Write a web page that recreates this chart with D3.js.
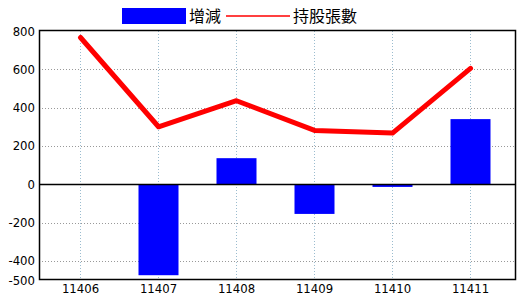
<!DOCTYPE html>
<html>
<head>
<meta charset="UTF-8">
<script src="https://d3js.org/d3.v7.min.js"></script>
<style>
  body { margin: 0; background: #fff; }
  text { font-family: "Liberation Sans Narrow", "DejaVu Sans Condensed", Arial, sans-serif; }
</style>
</head>
<body>
<div id="chart"></div>
<script>
// chart data
var months = ["11406", "11407", "11408", "11409", "11410", "11411"];
var change = [0, -475, 136, -155, -14, 340];       // 增減
var holding = [766, 300, 436, 281, 267, 605];      // 持股張數
var yTicks = [-500, -400, -200, 0, 200, 400, 600, 800];
var legendNames = ["增減", "持股張數"];

var W = 520, H = 300;
var margin = {top: 31, right: 4, bottom: 20, left: 39};
var plotR = W - margin.right, plotB = H - margin.bottom;

var svg = d3.select("#chart").append("svg")
  .attr("width", W).attr("height", H);

var x = d3.scalePoint().domain(months).range([80.5, 470.5]);
var y = d3.scaleLinear().domain([-500, 800]).range([plotB, margin.top]);

// horizontal grid
svg.append("g").selectAll("line")
  .data(yTicks.filter(function(d) { return d != 0 && d != -500 && d != 800; }))
  .enter().append("line")
  .attr("x1", margin.left).attr("x2", plotR)
  .attr("y1", function(d) { return Math.round(y(d)) + 0.5; })
  .attr("y2", function(d) { return Math.round(y(d)) + 0.5; })
  .attr("stroke", "#999").attr("stroke-dasharray", "1,2");

// vertical grid
svg.append("g").selectAll("line")
  .data(months).enter().append("line")
  .attr("x1", function(d) { return x(d); }).attr("x2", function(d) { return x(d); })
  .attr("y1", margin.top).attr("y2", plotB)
  .attr("stroke", "#9bbccf").attr("stroke-dasharray", "1,2");

// bars
var bw = 40;
svg.append("g").selectAll("rect")
  .data(months.map(function(m, i) { return {m: m, v: change[i]}; }))
  .enter().append("rect")
  .attr("x", function(d) { return x(d.m) - bw / 2; })
  .attr("width", bw)
  .attr("y", function(d) { return y(Math.max(0, d.v)); })
  .attr("height", function(d) { return Math.abs(y(d.v) - y(0)); })
  .attr("fill", "#0000ff");

// zero line
svg.append("line")
  .attr("x1", margin.left).attr("x2", plotR)
  .attr("y1", Math.round(y(0)) + 0.5).attr("y2", Math.round(y(0)) + 0.5)
  .attr("stroke", "#000").attr("stroke-width", 1.5);

// holding line
var line = d3.line()
  .x(function(d, i) { return x(months[i]); })
  .y(function(d) { return y(d); });
svg.append("path")
  .datum(holding)
  .attr("d", line)
  .attr("fill", "none")
  .attr("stroke", "#ff0000")
  .attr("stroke-width", 5)
  .attr("stroke-linejoin", "round")
  .attr("stroke-linecap", "round");

// frame
svg.append("rect")
  .attr("x", margin.left + 0.5).attr("y", margin.top - 0.5)
  .attr("width", plotR - margin.left - 1).attr("height", plotB - margin.top)
  .attr("fill", "none").attr("stroke", "#000").attr("stroke-width", 1.5);

// y labels
svg.append("g").selectAll("text")
  .data(yTicks).enter().append("text")
  .attr("x", 35).attr("y", function(d) { return y(d) + 4.5; })
  .attr("text-anchor", "end")
  .attr("font-size", 13)
  .text(function(d) { return d; });

// x labels
svg.append("g").selectAll("text")
  .data(months).enter().append("text")
  .attr("x", function(d) { return x(d); }).attr("y", plotB + 13)
  .attr("text-anchor", "middle")
  .attr("font-size", 13)
  .text(function(d) { return d; });

// legend
var lg = svg.append("g");
lg.append("rect").attr("x", 122).attr("y", 8).attr("width", 64).attr("height", 16).attr("fill", "#0000ff");
lg.append("text").attr("x", 189).attr("y", 22).attr("font-size", 16)
  .style("font-family", "'Noto Sans CJK TC', sans-serif").text(legendNames[0]);
lg.append("line").attr("x1", 226).attr("x2", 290).attr("y1", 16).attr("y2", 16)
  .attr("stroke", "#ff0000").attr("stroke-width", 1.5);
lg.append("text").attr("x", 293).attr("y", 22).attr("font-size", 16)
  .style("font-family", "'Noto Sans CJK TC', sans-serif").text(legendNames[1]);
</script>
</body>
</html>
